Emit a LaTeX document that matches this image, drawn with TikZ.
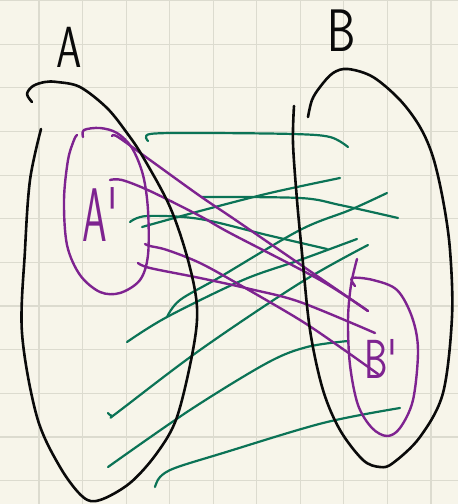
\documentclass[tikz,border=0pt]{standalone}
\usepackage{graphicx}
\definecolor{skPaper}{HTML}{F7F5EA}
\definecolor{skGrid}{HTML}{DCDBCF}
\definecolor{skInk}{HTML}{0A0A0A}
\definecolor{skPurple}{HTML}{7E2390}
\definecolor{skGreen}{HTML}{0B7356}
\tikzset{
  sk/grid/.style={draw=skGrid, line width=1.2pt},
  sk/ink/.style={draw=skInk, line width=2.6pt, line cap=round, line join=round},
  sk/subset/.style={draw=skPurple, line width=2.4pt, line cap=round, line join=round},
  sk/map/.style={sk/subset},
  sk/link/.style={draw=skGreen, line width=2.2pt, line cap=round, line join=round},
  sk/letter/.style={inner sep=0pt, font=\sffamily},
}
% narrow hand-lettered glyphs
\newcommand{\skGlyph}[2]{\scalebox{#1}[1]{#2}}

\begin{document}
\begin{tikzpicture}[x=1pt, y=-1pt, smooth, tension=0.55]
\fill[skPaper] (0,0) rectangle (458,504);
\useasboundingbox (0,0) rectangle (458,504);
\foreach \k in {0,...,9}
  \draw[sk/grid] ({39+43.55*\k},0) -- ({39+43.55*\k},504);
\foreach \k in {0,...,11}
  \draw[sk/grid] (0,{0.5+43.65*\k}) -- (458,{0.5+43.65*\k});

% labels
\node[sk/letter, text=skInk, font=\sffamily\fontsize{58}{58}\selectfont] (lblA) at (69,47) {\skGlyph{0.7}{A}};
\node[sk/letter, text=skInk, font=\sffamily\fontsize{60}{60}\selectfont] (lblB) at (342,31) {\skGlyph{0.75}{B}};
\node[sk/letter, text=skPurple, font=\sffamily\fontsize{76}{76}\selectfont] (lblAp) at (100,215) {\skGlyph{0.52}{A\textquotesingle}};
\node[sk/letter, text=skPurple, font=\sffamily\fontsize{55}{55}\selectfont] (lblBp) at (381,359) {\skGlyph{0.68}{B\textquotesingle}};

% green links
\draw[sk/link] plot coordinates {(148,141) (150,134) (200,133) (293,134) (330,137) (348,147)};
\draw[sk/link] plot coordinates {(142,227) (200,211) (270,193) (340,178)};
\draw[sk/link] plot coordinates {(130,222) (147,216) (200,219) (267,235) (327,249)};
\draw[sk/link] plot coordinates {(202,197) (300,198) (340,205) (398,218)};
\draw[sk/link] plot coordinates {(167,317) (180,300) (220,277) (300,230) (350,210) (387,193)};
\draw[sk/link] plot coordinates {(127,342) (167,317) (243,280) (300,260) (357,239)};
\draw[sk/link] plot coordinates {(108,413) (112,416) (118,412) (200,350) (300,283) (368,245)};
\draw[sk/link] plot coordinates {(108,467) (190,410) (267,363) (307,347) (348,341)};
\draw[sk/link] plot coordinates {(155,487) (160,477) (175,468) (223,453) (323,423) (400,408)};

% subsets and the map between them
\draw[sk/subset] plot coordinates {(83,137) (84,130) (100,128) (117,133) (132,148) (143,175) (148,210)
  (148,255) (140,280) (120,293) (100,292) (80,275) (67,245) (64,200) (68,160) (74,140) (77,135)};
\draw[sk/subset] plot coordinates {(355,286) (352,278) (373,280) (397,290) (412,317) (418,350) (413,400)
  (400,428) (387,436) (372,428) (358,405) (350,365) (348,320) (351,285) (357,259)};
\draw[sk/map] plot coordinates {(112,136) (118,137) (150,160) (200,196) (237,221) (320,278) (368,311)};
\draw[sk/map] plot coordinates {(110,180) (122,180) (150,191) (200,216) (230,233) (320,280) (368,311)};
\draw[sk/map] plot coordinates {(145,244) (150,246) (167,250) (200,263) (240,285) (300,320) (340,347) (378,374)};
\draw[sk/map] plot coordinates {(138,263) (150,268) (200,278) (250,289) (300,302) (375,333)};

% the two sets
\draw[sk/ink] plot coordinates {(32,102) (27,94) (33,86) (45,82) (57,82) (80,87) (107,108) (127,133)
  (143,157) (170,207) (188,260) (197,307) (193,350) (177,417) (157,453) (130,483) (100,500)
  (83,497) (60,467) (37,417) (22,333) (25,250) (30,180) (41,129)};
\draw[sk/ink] plot coordinates {(308,117) (312,100) (320,87) (333,73) (348,69) (373,77) (400,100)
  (420,127) (433,157) (443,200) (450,250) (452,317) (443,393) (420,437) (393,463) (380,467)
  (363,460) (340,430) (323,390) (310,330) (302,253) (297,200) (293,143) (294,106)};
\end{tikzpicture}
\end{document}
